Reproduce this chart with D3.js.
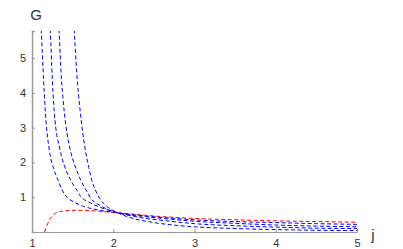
<!DOCTYPE html>
<html>
<head>
<meta charset="utf-8">
<script src="https://cdn.jsdelivr.net/npm/d3@7"></script>
<style>
html,body{margin:0;padding:0;background:#fff;}
svg{display:block;}
</style>
</head>
<body>
<svg id="chart" width="403" height="249"></svg>
<script>
// Data
const xTicks = [1, 2, 3, 4, 5];
const yTicks = [1, 2, 3, 4, 5];

const blue1 = [[1.105,6.2],[1.114,5.8],[1.14,4.5],[1.164,3.46],[1.213,2.36],[1.27,1.8],[1.32,1.49],[1.37,1.21],[1.43,1.0],[1.51,0.87],[1.62,0.75],[1.8,0.64],[2.03,0.56],[2.4,0.46],[2.7,0.40],[3,0.35],[3.5,0.30],[4,0.27],[4.5,0.24],[5,0.22]];
const blue2 = [[1.215,6.2],[1.225,5.8],[1.25,4.4],[1.274,3.46],[1.345,2.36],[1.40,1.9],[1.476,1.49],[1.55,1.21],[1.6,1.02],[1.7,0.86],[1.85,0.70],[2.03,0.57],[2.4,0.44],[2.7,0.37],[3,0.31],[3.5,0.25],[4,0.20],[4.5,0.17],[5,0.15]];
const blue3 = [[1.32,6.2],[1.332,5.8],[1.36,4.5],[1.397,3.46],[1.471,2.36],[1.53,1.9],[1.6,1.49],[1.665,1.21],[1.72,0.98],[1.84,0.76],[1.93,0.65],[2.03,0.57],[2.3,0.43],[2.7,0.31],[3,0.24],[3.5,0.18],[4,0.14],[4.5,0.11],[5,0.10]];
const blue4 = [[1.51,6.2],[1.52,5.8],[1.55,4.6],[1.594,3.46],[1.656,2.36],[1.70,1.85],[1.735,1.49],[1.78,1.21],[1.84,0.94],[1.92,0.74],[2.03,0.58],[2.2,0.42],[2.45,0.29],[2.7,0.21],[3,0.15],[3.5,0.10],[4,0.07],[4.5,0.05],[5,0.04]];
const red = [[1.156,0.0],[1.18,0.16],[1.205,0.30],[1.245,0.45],[1.287,0.54],[1.35,0.59],[1.41,0.61],[1.53,0.625],[1.65,0.62],[1.82,0.60],[2.0,0.56],[2.11,0.54],[2.5,0.46],[3,0.39],[3.5,0.35],[4,0.32],[4.5,0.30],[5,0.28]];

const blueSeries = [blue1, blue2, blue3, blue4];

const svg = d3.select("#chart");
const x = d3.scaleLinear().domain([1, 5]).range([32, 357]);
const y = d3.scaleLinear().domain([0, 5.78]).range([232, 31]);

svg.append("defs").append("clipPath").attr("id","clip")
  .append("rect").attr("x", 32).attr("y", 31).attr("width", 330).attr("height", 202);

const axisColor = "#9a9a9a";
const textColor = "#333";
const font = "Liberation Sans, Arial, sans-serif";

// x axis
const gx = svg.append("g").attr("transform", "translate(0,232)")
  .call(d3.axisBottom(x).tickValues(xTicks).tickSize(-3).tickPadding(5).tickFormat(d3.format("d")));
gx.select(".domain").attr("stroke", axisColor).attr("stroke-width", 1);
gx.selectAll(".tick line").attr("stroke", axisColor);
gx.selectAll(".tick text").attr("fill", textColor).attr("font-size", 11).attr("font-family", font).attr("dy","0.9em");

// y axis
const gy = svg.append("g").attr("transform", "translate(32,0)")
  .call(d3.axisLeft(y).tickValues(yTicks).tickSize(-3).tickPadding(6).tickFormat(d3.format("d")));
gy.select(".domain").attr("stroke", axisColor).attr("stroke-width", 1.5);
gy.selectAll(".tick line").attr("stroke", axisColor);
gy.selectAll(".tick text").attr("fill", textColor).attr("font-size", 11).attr("font-family", font);

// axis labels
svg.append("text").attr("x", 36).attr("y", 20).attr("text-anchor","middle")
  .attr("font-size", 15).attr("font-family", font).attr("fill", textColor).text("G");
svg.append("text").attr("x", 373).attr("y", 240).attr("text-anchor","middle")
  .attr("font-size", 15).attr("font-family", font).attr("fill", textColor).text("j");

const line = d3.line().x(d => x(d[0])).y(d => y(d[1])).curve(d3.curveMonotoneX);

const plot = svg.append("g").attr("clip-path", "url(#clip)");
plot.append("path").datum(red).attr("d", line)
  .attr("fill","none").attr("stroke","#ff0000").attr("stroke-width",1).attr("stroke-dasharray","4,2.5");
blueSeries.forEach(s => {
  plot.append("path").datum(s).attr("d", line)
    .attr("fill","none").attr("stroke","#0000ff").attr("stroke-width",1).attr("stroke-dasharray","4,2.5");
});
</script>
</body>
</html>
